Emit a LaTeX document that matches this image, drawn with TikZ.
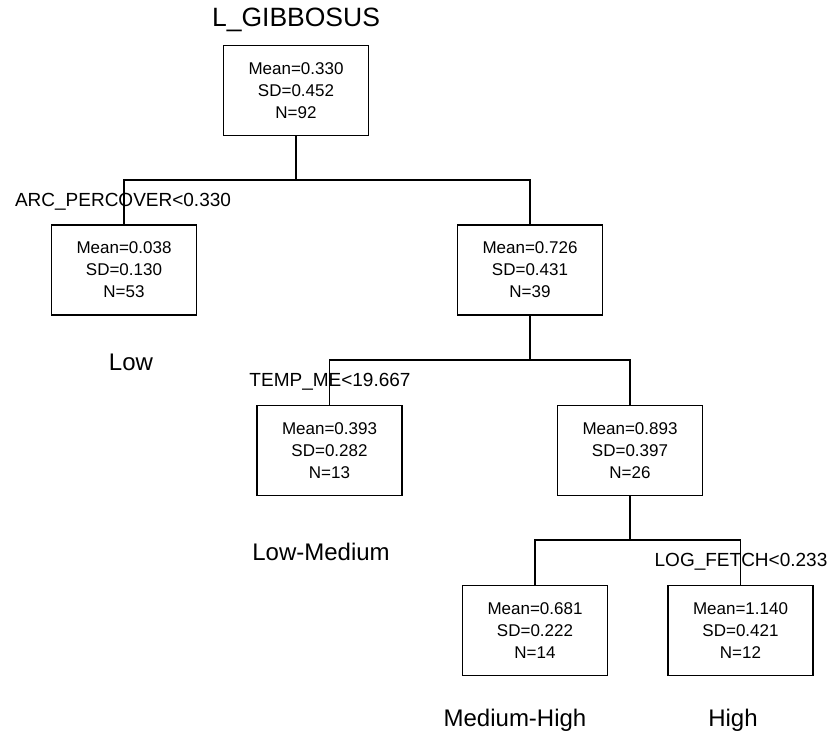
\documentclass[tikz,border=0pt]{standalone}
\usepackage{fontspec}
\setmainfont{Liberation Sans}
\begin{document}
\begin{tikzpicture}[x=1pt,y=-1pt,
  treebox/.style={draw, line width=1.6pt, rectangle, minimum width=145pt, minimum height=90pt,
    inner sep=0pt, align=center, font=\fontsize{17}{22}\selectfont},
  split/.style={font=\fontsize{19}{23}\selectfont, inner sep=0pt},
  leaf/.style={font=\fontsize{24}{28}\selectfont, inner sep=0pt},
  link/.style={line width=1.6pt}]
\useasboundingbox (0,0) rectangle (830,736);

% title
\node[font=\fontsize{26.5}{30}\selectfont, inner sep=0pt] (title) at (296,20) {L\_GIBBOSUS};

% tree nodes
\node[treebox] (root) at (296,90.5) {Mean=0.330\\SD=0.452\\N=92};
\node[treebox] (a)    at (124,270)  {Mean=0.038\\SD=0.130\\N=53};
\node[treebox] (b)    at (530,270)  {Mean=0.726\\SD=0.431\\N=39};
\node[treebox] (ba)   at (329.5,450.5) {Mean=0.393\\SD=0.282\\N=13};
\node[treebox] (bb)   at (630,450.5) {Mean=0.893\\SD=0.397\\N=26};
\node[treebox] (bba)  at (535,630.5) {Mean=0.681\\SD=0.222\\N=14};
\node[treebox] (bbb)  at (740.5,630.5) {Mean=1.140\\SD=0.421\\N=12};

% junction points of the splits
\coordinate (j1) at (296,180);
\coordinate (j2) at (530,360);
\coordinate (j3) at (630,540);

% connectors
\draw[link] (root.south) -- (j1);
\draw[link] (a.north) |- (j1) -| (b.north);
\draw[link] (b.south) -- (j2);
\draw[link] (ba.north) |- (j2) -| (bb.north);
\draw[link] (bb.south) -- (j3);
\draw[link] (bba.north) |- (j3) -| (bbb.north);

% split rules
\node[split] (s1) at (123,202) {ARC\_PERCOVER<0.330};
\node[split] (s2) at (330,382) {TEMP\_ME<19.667};
\node[split] (s3) at (741,562) {LOG\_FETCH<0.233};

% leaf classes
\node[leaf] (c1) at (131,362) {Low};
\node[leaf] (c2) at (321,552) {Low-Medium};
\node[leaf] (c3) at (515,720) {Medium-High};
\node[leaf] (c4) at (733,720) {High};
\end{tikzpicture}
\end{document}
